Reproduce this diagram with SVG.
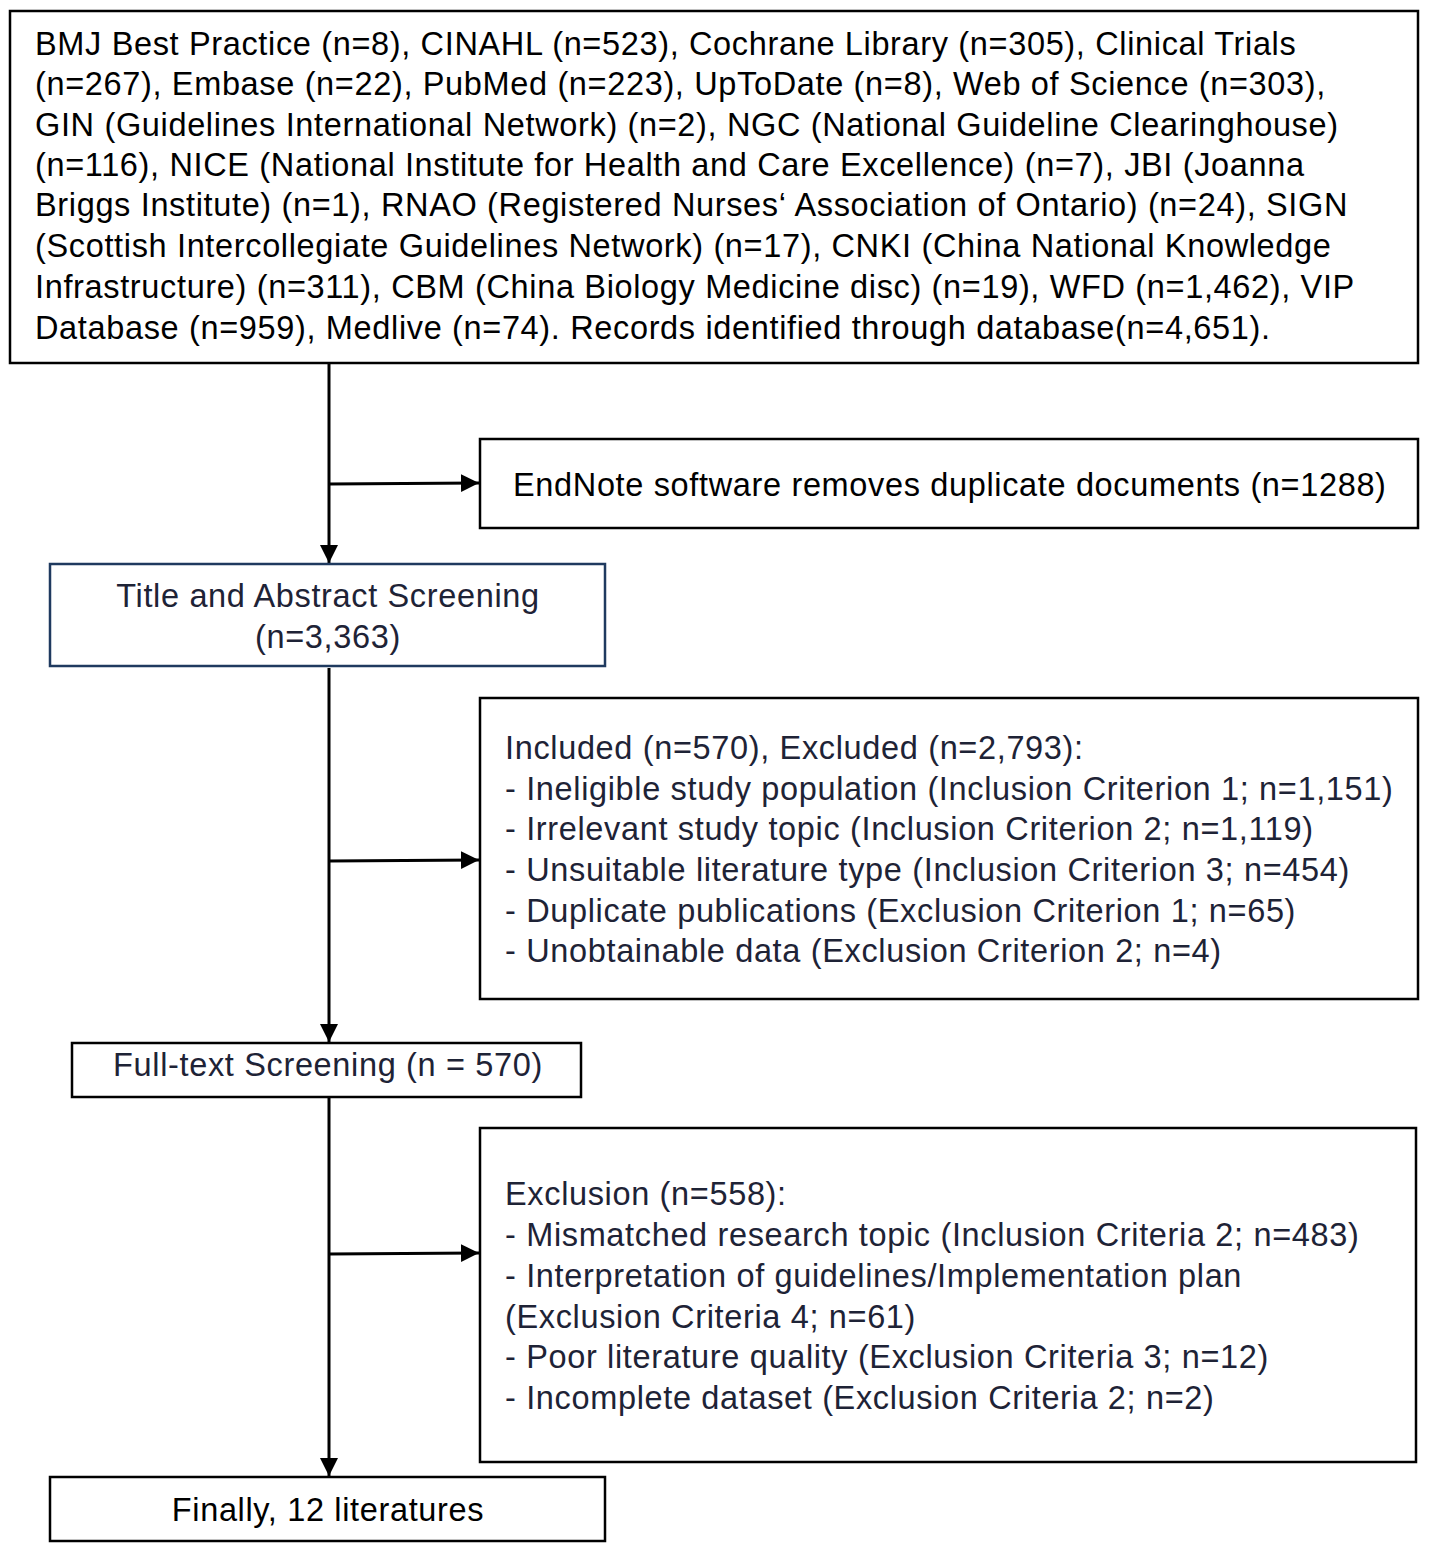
<svg xmlns="http://www.w3.org/2000/svg" width="1429" height="1553" viewBox="0 0 1429 1553">
<style>
.box{fill:#fff;stroke:#000;stroke-width:2.5}
.bbox{fill:#fff;stroke:#1f3a5f;stroke-width:2.5}
.t{font-family:"Liberation Sans",Arial,sans-serif;font-size:32.5px;letter-spacing:0.65px;fill:#000}
.n{font-family:"Liberation Sans",Arial,sans-serif;font-size:32.5px;letter-spacing:0.65px;fill:#1e2336}
.c{text-anchor:middle}
.ln{stroke:#000;stroke-width:3;fill:none}
</style>
<defs>
<marker id="ah" markerUnits="userSpaceOnUse" markerWidth="20" markerHeight="20" refX="18" refY="9" orient="auto">
<path d="M0,0 L18,9 L0,18 Z" fill="#000"/>
</marker>
</defs>
<rect width="1429" height="1553" fill="#fff"/>
<g id="connectors">
<line class="ln" x1="329" y1="364" x2="329" y2="563" marker-end="url(#ah)"/>
<line class="ln" x1="329" y1="484" x2="479" y2="483" marker-end="url(#ah)"/>
<line class="ln" x1="329" y1="668" x2="329" y2="1042" marker-end="url(#ah)"/>
<line class="ln" x1="329" y1="861" x2="479" y2="860" marker-end="url(#ah)"/>
<line class="ln" x1="329" y1="1098" x2="329" y2="1476" marker-end="url(#ah)"/>
<line class="ln" x1="329" y1="1254" x2="479" y2="1253" marker-end="url(#ah)"/>
</g>
<g id="sources">
<rect class="box" x="10" y="11" width="1408" height="352"/>
<text class="t" x="35">
<tspan x="35" y="55">BMJ Best Practice (n=8), CINAHL (n=523), Cochrane Library (n=305), Clinical Trials</tspan>
<tspan x="35" y="95">(n=267), Embase (n=22), PubMed (n=223), UpToDate (n=8), Web of Science (n=303),</tspan>
<tspan x="35" y="136">GIN (Guidelines International Network) (n=2), NGC (National Guideline Clearinghouse)</tspan>
<tspan x="35" y="176">(n=116), NICE (National Institute for Health and Care Excellence) (n=7), JBI (Joanna</tspan>
<tspan x="35" y="216">Briggs Institute) (n=1), RNAO (Registered Nurses‘ Association of Ontario) (n=24), SIGN</tspan>
<tspan x="35" y="257">(Scottish Intercollegiate Guidelines Network) (n=17), CNKI (China National Knowledge</tspan>
<tspan x="35" y="298">Infrastructure) (n=311), CBM (China Biology Medicine disc) (n=19), WFD (n=1,462), VIP</tspan>
<tspan x="35" y="339">Database (n=959), Medlive (n=74). Records identified through database(n=4,651).</tspan>
</text>
</g>
<g id="endnote">
<rect class="box" x="480" y="439" width="938" height="89"/>
<text class="t" x="513" y="496">EndNote software removes duplicate documents (n=1288)</text>
</g>
<g id="title-abstract">
<rect class="bbox" x="50" y="564" width="555" height="102"/>
<text class="n c" x="328" y="607">Title and Abstract Screening</text>
<text class="n c" x="328" y="648">(n=3,363)</text>
</g>
<g id="excluded1">
<rect class="box" x="480" y="698" width="938" height="301"/>
<text class="n">
<tspan x="505" y="759">Included (n=570), Excluded (n=2,793):</tspan>
<tspan x="505" y="800">- Ineligible study population (Inclusion Criterion 1; n=1,151)</tspan>
<tspan x="505" y="840">- Irrelevant study topic (Inclusion Criterion 2; n=1,119)</tspan>
<tspan x="505" y="881">- Unsuitable literature type (Inclusion Criterion 3; n=454)</tspan>
<tspan x="505" y="922">- Duplicate publications (Exclusion Criterion 1; n=65)</tspan>
<tspan x="505" y="962">- Unobtainable data (Exclusion Criterion 2; n=4)</tspan>
</text>
</g>
<g id="fulltext">
<rect class="box" x="72" y="1043" width="509" height="54"/>
<text class="n c" x="328" y="1076">Full-text Screening (n = 570)</text>
</g>
<g id="excluded2">
<rect class="box" x="480" y="1128" width="936" height="334"/>
<text class="n">
<tspan x="505" y="1205">Exclusion (n=558):</tspan>
<tspan x="505" y="1246">- Mismatched research topic (Inclusion Criteria 2; n=483)</tspan>
<tspan x="505" y="1287">- Interpretation of guidelines/Implementation plan</tspan>
<tspan x="505" y="1328">(Exclusion Criteria 4; n=61)</tspan>
<tspan x="505" y="1368">- Poor literature quality (Exclusion Criteria 3; n=12)</tspan>
<tspan x="505" y="1409">- Incomplete dataset (Exclusion Criteria 2; n=2)</tspan>
</text>
</g>
<g id="final">
<rect class="box" x="50" y="1477" width="555" height="64"/>
<text class="t c" x="328" y="1521">Finally, 12 literatures</text>
</g>
</svg>
